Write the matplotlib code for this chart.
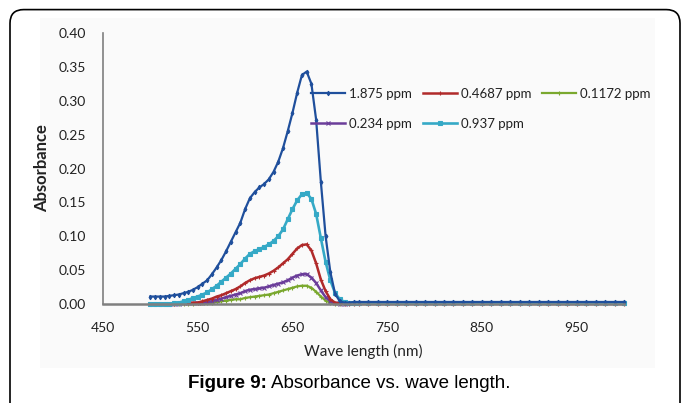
import matplotlib
matplotlib.use("Agg")
import matplotlib.pyplot as plt
from matplotlib.patches import FancyBboxPatch, Rectangle

# ---------------- data ----------------
wavelength = [500, 505, 510, 515, 520, 525, 530, 535, 540, 545, 550, 555, 560, 565, 570,
              575, 580, 585, 590, 595, 600, 605, 610, 615, 620, 625, 630, 635, 640, 645,
              650, 655, 660, 665, 670, 675, 680, 685, 690, 695, 700, 705, 710, 715, 720,
              730, 740, 750, 760, 770, 780, 790, 800, 810, 820, 830, 840, 850, 860, 870,
              880, 890, 900, 910, 920, 930, 940, 950, 960, 970, 980, 990, 1000]

abs_1875 = [0.011, 0.011, 0.011, 0.011, 0.012, 0.013, 0.014, 0.016, 0.018, 0.021, 0.025, 0.030,
            0.035, 0.044, 0.054, 0.065, 0.078, 0.092, 0.106, 0.120, 0.140, 0.156, 0.165, 0.172,
            0.177, 0.184, 0.195, 0.210, 0.230, 0.255, 0.282, 0.312, 0.338, 0.343, 0.325, 0.272,
            0.180, 0.100, 0.047, 0.015, 0.004, 0.002, 0.002, 0.003, 0.003,
            0.003, 0.003, 0.003, 0.003, 0.003, 0.003, 0.003, 0.003, 0.003, 0.003, 0.003, 0.003,
            0.003, 0.003, 0.003, 0.003, 0.003, 0.003, 0.003, 0.003, 0.003, 0.003, 0.003, 0.003,
            0.003, 0.003, 0.003, 0.003]

abs_0937 = [0.000, 0.000, 0.000, 0.000, 0.000, 0.001, 0.002, 0.004, 0.006, 0.009, 0.011, 0.014,
            0.017, 0.022, 0.027, 0.033, 0.039, 0.045, 0.052, 0.059, 0.067, 0.074, 0.078, 0.081,
            0.084, 0.088, 0.093, 0.100, 0.110, 0.125, 0.140, 0.153, 0.162, 0.164, 0.155, 0.133,
            0.097, 0.062, 0.035, 0.016, 0.007, 0.003, 0.001, 0.001, 0.001,
            0.001, 0.001, 0.001, 0.001, 0.001, 0.001, 0.001, 0.001, 0.001, 0.001, 0.001, 0.001,
            0.001, 0.001, 0.001, 0.001, 0.001, 0.001, 0.001, 0.001, 0.001, 0.001, 0.001, 0.001,
            0.001, 0.001, 0.001, 0.001]

abs_04687 = [0.000, 0.000, 0.000, 0.000, 0.000, 0.000, 0.001, 0.001, 0.001, 0.002, 0.002, 0.004,
             0.006, 0.008, 0.011, 0.013, 0.016, 0.019, 0.022, 0.026, 0.031, 0.035, 0.038, 0.040,
             0.042, 0.045, 0.049, 0.054, 0.060, 0.066, 0.074, 0.082, 0.087, 0.088, 0.079, 0.060,
             0.036, 0.019, 0.007, 0.002, 0.001, 0.000, 0.000, 0.000, 0.000,
             0.000, 0.000, 0.000, 0.000, 0.000, 0.000, 0.000, 0.000, 0.000, 0.000, 0.000, 0.000,
             0.000, 0.000, 0.000, 0.000, 0.000, 0.000, 0.000, 0.000, 0.000, 0.000, 0.000, 0.000,
             0.000, 0.000, 0.000, 0.000]

abs_0234 = [0.000, 0.000, 0.000, 0.000, 0.000, 0.000, 0.000, 0.001, 0.001, 0.001, 0.002, 0.002,
            0.003, 0.004, 0.006, 0.008, 0.010, 0.012, 0.014, 0.016, 0.019, 0.021, 0.022, 0.023,
            0.024, 0.026, 0.028, 0.030, 0.032, 0.035, 0.039, 0.042, 0.044, 0.044, 0.039, 0.031,
            0.020, 0.010, 0.004, 0.001, 0.000, 0.000, 0.001, 0.001, 0.001,
            0.001, 0.001, 0.001, 0.001, 0.001, 0.001, 0.001, 0.001, 0.001, 0.001, 0.001, 0.001,
            0.001, 0.001, 0.001, 0.001, 0.001, 0.001, 0.001, 0.001, 0.001, 0.001, 0.001, 0.001,
            0.001, 0.001, 0.001, 0.001]

abs_01172 = [0.000, 0.000, 0.000, 0.000, 0.000, 0.000, 0.000, 0.000, 0.000, 0.000, 0.001, 0.001,
             0.001, 0.002, 0.003, 0.004, 0.005, 0.006, 0.007, 0.007, 0.009, 0.010, 0.011, 0.012,
             0.013, 0.014, 0.016, 0.018, 0.020, 0.022, 0.024, 0.026, 0.027, 0.027, 0.024, 0.018,
             0.011, 0.005, 0.002, 0.000, 0.000, 0.001, 0.002, 0.002, 0.002,
             0.002, 0.002, 0.002, 0.002, 0.002, 0.002, 0.002, 0.002, 0.002, 0.002, 0.002, 0.002,
             0.002, 0.002, 0.002, 0.002, 0.002, 0.002, 0.002, 0.002, 0.002, 0.002, 0.002, 0.002,
             0.002, 0.002, 0.002, 0.002]

series_labels = ["1.875 ppm", "0.234 ppm", "0.4687 ppm", "0.937 ppm", "0.1172 ppm"]
x_ticks = [450, 550, 650, 750, 850, 950]
y_ticks = [0.00, 0.05, 0.10, 0.15, 0.20, 0.25, 0.30, 0.35, 0.40]

# ---------------- figure ----------------
W, H = 683, 403
fig = plt.figure(figsize=(W / 100, H / 100), dpi=100)
fig.patch.set_facecolor("white")

# rounded outer frame
frame = FancyBboxPatch((10 / W, -0.2), 670 / W, (H + 80 - 9) / H,
                       boxstyle="round,pad=0,rounding_size=0.02",
                       transform=fig.transFigure, facecolor="none",
                       edgecolor="black", linewidth=1.2, mutation_aspect=W / H,
                       zorder=-2)
fig.patches.append(frame)
# faint panel
fig.patches.append(Rectangle((40 / W, 1 - 368 / H), 615 / W, 350 / H,
                             transform=fig.transFigure, facecolor="#fafafa",
                             edgecolor="none", zorder=-3))

ax = fig.add_axes([103 / W, 1 - 304 / H, 521 / W, 271 / H])
ax.set_facecolor("none")
ax.set_zorder(2)

narrow = ["Lato", "DejaVu Sans"]

styles = {
    "1.875 ppm": dict(data=abs_1875, color="#1f4f9c", marker="d", ms=2.3, lw=1.6),
    "0.234 ppm": dict(data=abs_0234, color="#6b3d9a", marker="x", ms=2.3, lw=1.8),
    "0.4687 ppm": dict(data=abs_04687, color="#b02a2a", marker="+", ms=2.8, lw=1.8),
    "0.937 ppm": dict(data=abs_0937, color="#35a9c6", marker="s", ms=2.6, lw=1.9),
    "0.1172 ppm": dict(data=abs_01172, color="#7aa82e", marker="+", ms=2.8, lw=1.6),
}
draw_order = ["0.1172 ppm", "0.234 ppm", "0.4687 ppm", "0.937 ppm", "1.875 ppm"]
handles = {}
for name in draw_order:
    s = styles[name]
    h, = ax.plot(wavelength, s["data"], color=s["color"], marker=s["marker"],
                 markersize=s["ms"], lw=s["lw"], label=name, markeredgewidth=0.8,
                 clip_on=False)
    handles[name] = h

ax.set_xlim(450, 1000)
ax.set_ylim(0, 0.40)
ax.set_xticks(x_ticks)
ax.set_yticks(y_ticks)
ax.set_xticklabels([str(t) for t in x_ticks], family=narrow, fontsize=10)
ax.set_yticklabels([f"{t:.2f}" for t in y_ticks], family=narrow, fontsize=10)
ax.tick_params(axis="both", length=0, colors="#222222")
ax.tick_params(axis="y", pad=12)
ax.tick_params(axis="x", pad=13)
for sp in ["top", "right"]:
    ax.spines[sp].set_visible(False)
ax.spines["left"].set_color("#7f7f7f")
ax.spines["bottom"].set_color("#7f7f7f")
ax.spines["left"].set_linewidth(1.2)
ax.spines["bottom"].set_linewidth(1.8)

ax.set_xlabel("Wave length (nm)", family=narrow, fontsize=11, labelpad=7,
              color="#222222")
ax.set_ylabel("Absorbance", family=narrow, fontsize=12, fontweight="bold",
              labelpad=6, color="#222222")

leg = ax.legend([handles[n] for n in series_labels], series_labels,
                ncol=3, loc="upper left",
                bbox_to_anchor=(311 / W, 1 - 88 / H), bbox_transform=fig.transFigure,
                frameon=False, prop={"family": narrow, "size": 9.5},
                handlelength=2.6, handletextpad=0.3, columnspacing=0.8,
                numpoints=1, borderpad=0, borderaxespad=0, labelspacing=1.35)
for t in leg.get_texts():
    t.set_color("#222222")

# caption
fig.text(267 / W, 1 - 383 / H, "Figure 9:", ha="right", va="center",
         family="Liberation Sans", fontweight="bold", fontsize=13.5)
fig.text(271 / W, 1 - 383 / H, "Absorbance vs. wave length.", ha="left", va="center",
         family="Liberation Sans", fontsize=13.5)

fig.savefig("out.png", dpi=100)
